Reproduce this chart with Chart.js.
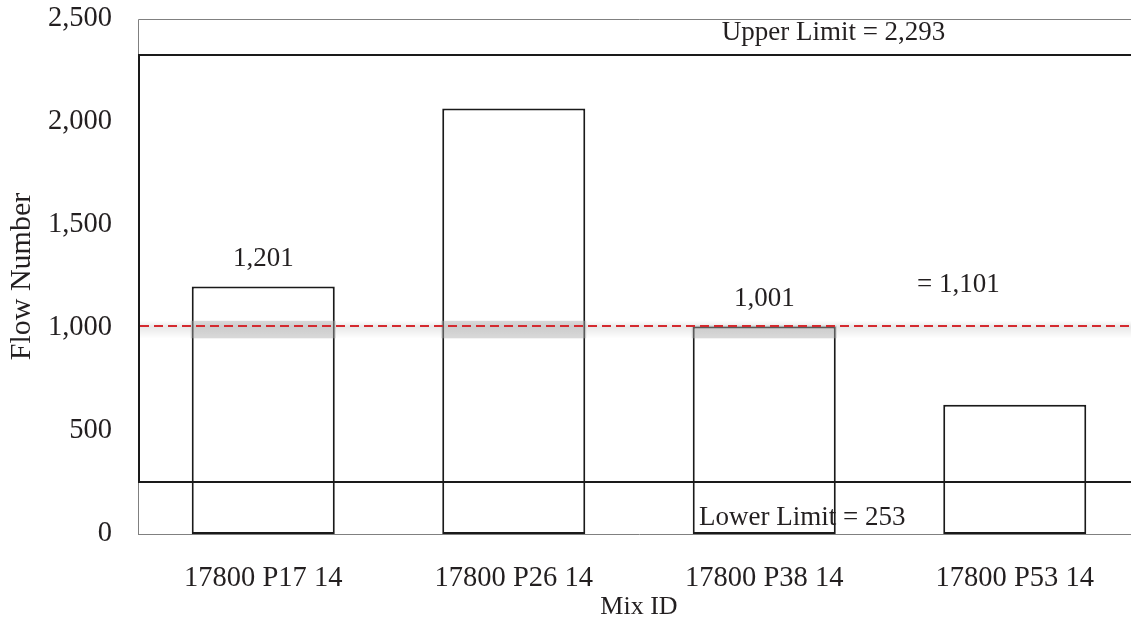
<!DOCTYPE html>
<html><head><meta charset="utf-8">
<script src="https://cdn.jsdelivr.net/npm/chart.js@4"></script>
<style>html,body{margin:0;padding:0;background:#fff;overflow:hidden;}
#wrap{width:1140px;height:622px;position:relative;}
</style></head><body><div id="wrap"><canvas id="c"></canvas></div>
<script>
const categories = ['17800 P17 14', '17800 P26 14', '17800 P38 14', '17800 P53 14'];
const flowNumbers = [1201, 2065, 1007, 628];
const barLabels = ['1,201', '', '1,001', ''];
const yTicks = [0, 500, 1000, 1500, 2000, 2500];
const lowerLimit = [253];
const upperLimit = [2325];
const limitLabels = ['Lower Limit = 253', 'Upper Limit = 2,293'];
const meanLine = [1010];
const meanLabel = ['= 1,101'];
const bandRange = [950, 1035];

const TEXT = '#231f20';
const FONT = 'Liberation Serif, Times New Roman, serif';

const overlay = {
  id: 'overlay',
  beforeDatasetsDraw(chart) {
    const {ctx, chartArea: a} = chart;
    ctx.save();
    ctx.strokeStyle = '#808080';
    ctx.lineWidth = 1;
    ctx.beginPath();
    ctx.moveTo(a.left + 0.5, a.bottom + 0.5);
    ctx.lineTo(a.left + 0.5, a.top + 0.5);
    ctx.lineTo(a.right + 5, a.top + 0.5);
    ctx.moveTo(a.left, a.bottom + 0.5);
    ctx.lineTo(a.right + 5, a.bottom + 0.5);
    ctx.stroke();
    ctx.restore();
  },
  afterDatasetsDraw(chart) {
    const {ctx, chartArea: a, scales: {x, y}} = chart;
    ctx.save();
    const bTop = y.getPixelForValue(bandRange[1]);
    const bBot = y.getPixelForValue(bandRange[0]);
    const mY = y.getPixelForValue(meanLine[0]);
    const g = ctx.createLinearGradient(0, bTop, 0, bBot);
    g.addColorStop(0, 'rgba(0,0,0,0)');
    g.addColorStop(0.35, 'rgba(0,0,0,0.09)');
    g.addColorStop(1, 'rgba(0,0,0,0)');
    ctx.fillStyle = g;
    ctx.fillRect(a.left, bTop, a.right - a.left, bBot - bTop);
    const meta = chart.getDatasetMeta(0);
    meta.data.forEach(bar => {
      const l = bar.x - bar.width / 2, r = bar.x + bar.width / 2;
      const t = Math.max(bTop, bar.y - 1);
      const b = Math.min(bBot, bar.base);
      if (b > t) {
        ctx.fillStyle = 'rgba(170,170,170,0.45)';
        ctx.fillRect(l - 1, t, r - l + 2, b - t);
      }
    });
    const uY = y.getPixelForValue(upperLimit[0]);
    const lY = y.getPixelForValue(lowerLimit[0]);
    ctx.strokeStyle = '#1a1a1a';
    ctx.lineWidth = 2;
    ctx.beginPath();
    ctx.moveTo(a.right + 20, uY);
    ctx.lineTo(a.left + 1, uY);
    ctx.lineTo(a.left + 1, lY);
    ctx.lineTo(a.right + 20, lY);
    ctx.stroke();
    ctx.strokeStyle = '#d42a2f';
    ctx.lineWidth = 2;
    ctx.setLineDash([9, 5]);
    ctx.beginPath();
    ctx.moveTo(a.left + 2, mY);
    ctx.lineTo(a.right, mY);
    ctx.stroke();
    ctx.setLineDash([]);
    ctx.fillStyle = TEXT;
    ctx.font = '27px ' + FONT;
    ctx.textBaseline = 'middle';
    ctx.textAlign = 'center';
    meta.data.forEach((bar, i) => {
      if (barLabels[i]) ctx.fillText(barLabels[i], bar.x, bar.y - 28);
    });
    ctx.textAlign = 'left';
    ctx.fillText(limitLabels[1], x.getPixelForValue(1.83), y.getPixelForValue(2432));
    ctx.fillText(limitLabels[0], x.getPixelForValue(1.74), y.getPixelForValue(78));
    ctx.fillText(meanLabel[0], x.getPixelForValue(2.61), y.getPixelForValue(1209));
    ctx.restore();
  }
};

new Chart(document.getElementById('c'), {
  type: 'bar',
  data: {
    labels: categories,
    datasets: [{
      data: flowNumbers,
      backgroundColor: '#ffffff',
      borderColor: '#1a1a1a',
      borderWidth: 2,
      borderSkipped: false,
      barPercentage: 0.571,
      categoryPercentage: 1
    }]
  },
  options: {
    responsive: true,
    maintainAspectRatio: false,
    animation: false,
    layout: {padding: {top: 19, left: 0, right: 0, bottom: 0}},
    plugins: {legend: {display: false}, tooltip: {enabled: false}},
    scales: {
      x: {
        grid: {display: false, drawTicks: false},
        border: {display: false},
        ticks: {color: TEXT, font: {family: FONT, size: 28.5}, padding: 27, maxRotation: 0},
        title: {display: true, text: 'Mix ID', color: TEXT, font: {family: FONT, size: 26, lineHeight: 1.2}, padding: {top: 0, bottom: -1}},
        afterFit(s) { s.height = 88; s.paddingLeft = 0; s.paddingRight = 0; }
      },
      y: {
        min: yTicks[0], max: yTicks[yTicks.length - 1],
        grid: {display: false, drawTicks: false},
        border: {display: false},
        afterBuildTicks(s) { s.ticks = yTicks.map(v => ({value: v})); },
        ticks: {color: TEXT, font: {family: FONT, size: 28.5}, padding: 26,
          callback: v => v.toLocaleString('en-US')},
        title: {display: true, text: 'Flow Number', color: TEXT, font: {family: FONT, size: 30, lineHeight: 1.2}, padding: {top: 4, bottom: 0}},
        afterFit(s) { s.width = 138; s.paddingTop = 0; s.paddingBottom = 0; }
      }
    }
  },
  plugins: [overlay]
});
</script></body></html>
